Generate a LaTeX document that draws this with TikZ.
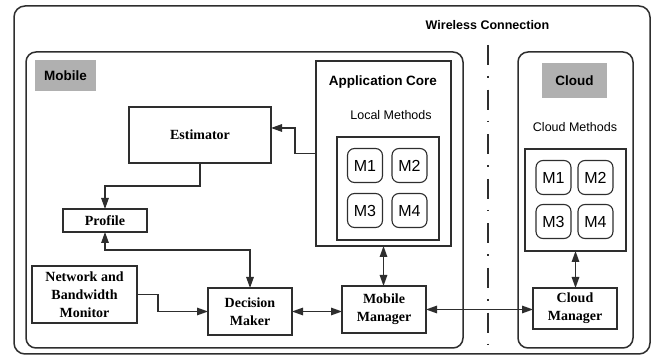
\documentclass[tikz,border=0pt]{standalone}
\usepackage{fontspec}
\setmainfont{Liberation Serif}
\setsansfont{Liberation Sans}
\usetikzlibrary{arrows.meta,calc}
\definecolor{ink}{HTML}{2E2E2E}
\definecolor{tag}{HTML}{B0B0B0}
\tikzset{
  x=1pt, y=-1pt,
  every node/.style={inner sep=0pt, outer sep=0pt},
  frame/.style={draw=ink, line width=1.5pt, rounded corners=11pt},
  plainbox/.style={draw=ink, line width=1.3pt},
  block/.style={draw=ink, line width=1.3pt, align=center,
    font=\fontsize{14}{18}\selectfont\rmfamily\bfseries},
  tagbox/.style={fill=tag, font=\fontsize{13.5}{16}\selectfont\sffamily\bfseries},
  method/.style={draw=ink, line width=1.1pt, rounded corners=7pt,
    minimum width=35pt, minimum height=34pt,
    font=\fontsize{16}{18}\selectfont\sffamily},
  caption/.style={font=\fontsize{12.5}{15}\selectfont\sffamily},
  link/.style={draw=ink, line width=1.4pt},
  tip/.style={},
  arr/.style={link, -{Triangle[length=11pt,width=7.5pt]}},
  biarr/.style={link, {Triangle[length=11pt,width=7.5pt]}-{Triangle[length=11pt,width=7.5pt]}},
}
\begin{document}
\begin{tikzpicture}
\useasboundingbox (0,0) rectangle (654,358);

% containers
\node[frame, minimum width=636pt, minimum height=348pt] (outer) at (332,180) {};
\node[frame, rounded corners=10pt, minimum width=437pt, minimum height=296pt] (mobile) at (244.5,200) {};
\node[frame, rounded corners=10pt, minimum width=115pt, minimum height=296pt] (cloud) at (575.5,200) {};

\node[font=\fontsize{12.5}{15}\selectfont\sffamily\bfseries] (wireless) at (487.5,25) {Wireless Connection};

\node[tagbox, minimum width=61pt, minimum height=31pt] (mobiletag) at (65.5,75.5) {Mobile};
\node[tagbox, minimum width=65pt, minimum height=35pt] (cloudtag) at (574.5,80.5) {Cloud};

% application core with local methods
\node[plainbox, minimum width=135pt, minimum height=185pt] (appcore) at (383.5,153.5) {};
\node[font=\fontsize{13.5}{16}\selectfont\sffamily\bfseries] (apptitle) at (383,82) {Application Core};
\node[caption] (localcap) at (391,115) {Local Methods};
\node[plainbox, minimum width=102pt, minimum height=103pt] (localm) at (388,188.5) {};
\node[method] (lm1) at (365,165.5) {M1};
\node[method] (lm2) at (409.5,165.5) {M2};
\node[method] (lm3) at (365,210.5) {M3};
\node[method] (lm4) at (409.5,210.5) {M4};

% cloud methods
\node[caption] (cloudcap) at (575,127) {Cloud Methods};
\node[plainbox, minimum width=101pt, minimum height=102pt] (cloudm) at (575.5,200) {};
\node[method] (cm1) at (553.5,177.5) {M1};
\node[method] (cm2) at (595.5,177.5) {M2};
\node[method] (cm3) at (553.5,221.5) {M3};
\node[method] (cm4) at (595.5,221.5) {M4};

% functional blocks
\node[block, minimum width=142pt, minimum height=56pt] (est) at (200,135) {Estimator};
\node[block, minimum width=84pt, minimum height=23pt] (profile) at (105,220.5) {Profile};
\node[block, minimum width=105pt, minimum height=57pt] (netmon) at (84.5,294.5) {Network and\\Bandwidth\\Monitor};
\node[block, minimum width=84pt, minimum height=47pt] (decision) at (250,311.5) {Decision\\Maker};
\node[block, minimum width=84pt, minimum height=47pt] (mobman) at (384,309.5) {Mobile\\Manager};
\node[block, minimum width=84pt, minimum height=41pt] (cloudman) at (575,308.5) {Cloud\\Manager};

% wireless boundary
\coordinate (wtop) at (488,45);
\coordinate (wbot) at (488,348);
\draw[ink, line width=2.6pt, dash pattern=on 20pt off 11pt on 1.6pt off 12pt] (wtop) -- (wbot);

% connectors
\draw[arr] (appcore.west) -- ++(-21,0) |- ($(est.east)+(0,-7)$);
\draw[arr] (est.south) |- (150,186) -| (profile.north);
\draw[biarr] (profile.south) |- (200,250) -| (decision.north);
\draw[arr] (netmon.east) -- ++(21,0) |- (decision.west);
\draw[biarr] (decision.east) -- (decision.east -| mobman.west);
\draw[biarr] (appcore.south) -- (appcore.south |- mobman.north);
\draw[biarr] (mobman.east) -- (mobman.east -| cloudman.west);
\draw[biarr] (cloudm.south) -- (cloudm.south |- cloudman.north);
\end{tikzpicture}
\end{document}
